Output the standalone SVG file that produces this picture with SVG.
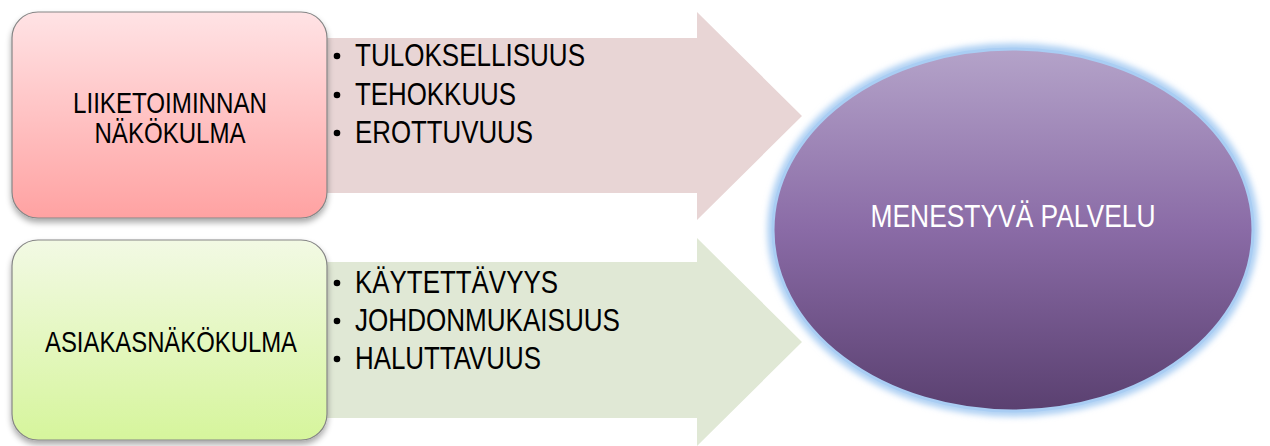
<svg xmlns="http://www.w3.org/2000/svg" width="1270" height="446" viewBox="0 0 1270 446">
<style>
.box{stroke:#858585;stroke-width:1.2}
.lbl{font-family:"Liberation Sans",Arial,sans-serif;font-size:30px;fill:#000}
.item{font-family:"Liberation Sans",Arial,sans-serif;font-size:31px;fill:#000}
.ctr{font-family:"Liberation Sans",Arial,sans-serif;font-size:31px;fill:#fff}
.bul{fill:#000}
</style>
<defs>
<linearGradient id="gPink" x1="0" y1="0" x2="0" y2="1">
<stop offset="0" stop-color="#ffe3e5"/>
<stop offset="1" stop-color="#ffa2a2"/>
</linearGradient>
<linearGradient id="gGreen" x1="0" y1="0" x2="0" y2="1">
<stop offset="0" stop-color="#f2f9e4"/>
<stop offset="1" stop-color="#d6f59c"/>
</linearGradient>
<linearGradient id="gPurple" x1="0" y1="0" x2="0" y2="1">
<stop offset="0" stop-color="#b4a3c9"/>
<stop offset="0.5" stop-color="#8a6ba6"/>
<stop offset="1" stop-color="#5a4070"/>
</linearGradient>
<filter id="shadow" x="-10%" y="-10%" width="120%" height="130%">
<feGaussianBlur in="SourceAlpha" stdDeviation="3"/>
<feOffset dx="0" dy="4" result="b"/>
<feComponentTransfer><feFuncA type="linear" slope="0.35"/></feComponentTransfer>
<feMerge><feMergeNode/><feMergeNode in="SourceGraphic"/></feMerge>
</filter>
<filter id="glow" x="-10%" y="-10%" width="120%" height="120%">
<feGaussianBlur stdDeviation="3"/>
</filter>
</defs>

<g id="connectors">
<polygon points="327,38 697,38 697,12 802,116 697,220 697,193 327,193" fill="#e8d5d5"/>
<polygon points="327,262 697,262 697,238 802,342 697,446 697,418 327,418" fill="#e0e8d5"/>
</g>

<g id="node-liiketoiminta">
<rect class="box" x="12" y="12" width="315" height="206" rx="26" fill="url(#gPink)" filter="url(#shadow)"/>
<text class="lbl" x="170" y="113" text-anchor="middle" textLength="194" lengthAdjust="spacingAndGlyphs">LIIKETOIMINNAN</text>
<text class="lbl" x="170" y="143" text-anchor="middle" textLength="151" lengthAdjust="spacingAndGlyphs">NÄKÖKULMA</text>
</g>

<g id="node-asiakas">
<rect class="box" x="12" y="240" width="315" height="200" rx="26" fill="url(#gGreen)" filter="url(#shadow)"/>
<text class="lbl" x="171" y="352" text-anchor="middle" textLength="252" lengthAdjust="spacingAndGlyphs">ASIAKASNÄKÖKULMA</text>
</g>

<g id="list-liiketoiminta">
<circle class="bul" cx="337" cy="56" r="3.3"/>
<circle class="bul" cx="337" cy="95" r="3.3"/>
<circle class="bul" cx="337" cy="133" r="3.3"/>
<text class="item" x="355" y="66" textLength="230" lengthAdjust="spacingAndGlyphs">TULOKSELLISUUS</text>
<text class="item" x="355" y="105" textLength="161" lengthAdjust="spacingAndGlyphs">TEHOKKUUS</text>
<text class="item" x="355" y="143" textLength="178" lengthAdjust="spacingAndGlyphs">EROTTUVUUS</text>
</g>

<g id="list-asiakas">
<circle class="bul" cx="337" cy="283" r="3.3"/>
<circle class="bul" cx="337" cy="321" r="3.3"/>
<circle class="bul" cx="337" cy="359" r="3.3"/>
<text class="item" x="355" y="293" textLength="203" lengthAdjust="spacingAndGlyphs">KÄYTETTÄVYYS</text>
<text class="item" x="355" y="331" textLength="265" lengthAdjust="spacingAndGlyphs">JOHDONMUKAISUUS</text>
<text class="item" x="355" y="369" textLength="186" lengthAdjust="spacingAndGlyphs">HALUTTAVUUS</text>
</g>

<g id="node-menestyva">
<ellipse cx="1013" cy="230" rx="241" ry="182" fill="none" stroke="#a9cdf3" stroke-width="9" filter="url(#glow)"/>
<ellipse cx="1013" cy="230" rx="240" ry="181" fill="url(#gPurple)" stroke="#a9cdf3" stroke-width="3"/>
<text class="ctr" x="1013" y="227" text-anchor="middle" textLength="285" lengthAdjust="spacingAndGlyphs">MENESTYVÄ PALVELU</text>
</g>
</svg>
